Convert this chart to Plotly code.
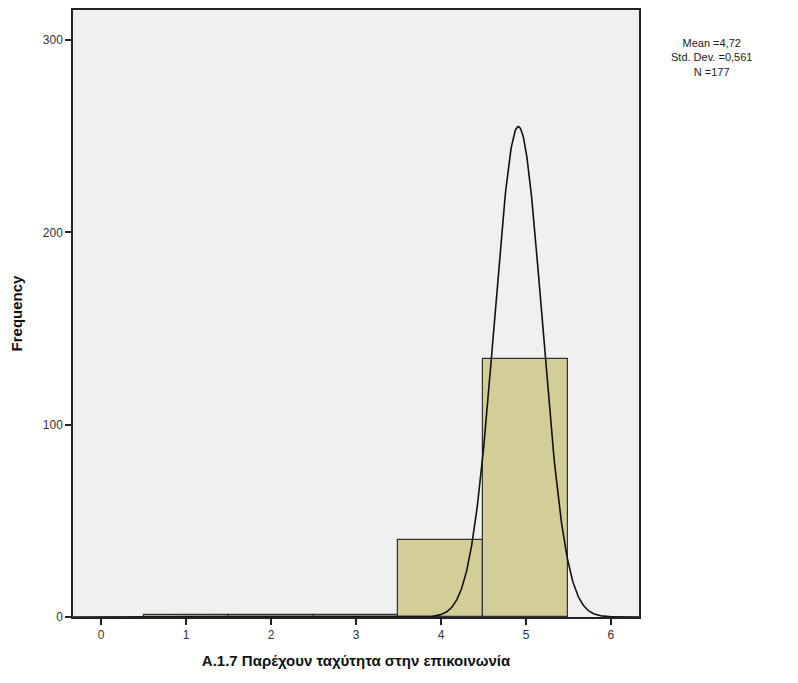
import numpy as np
import plotly.graph_objects as go

# Data
categories = [1, 2, 3, 4, 5]
frequencies = [1, 1, 1, 40, 134]
x_ticks = [0, 1, 2, 3, 4, 5, 6]
y_ticks = [0, 100, 200, 300]
stats_text = ["Mean =4,72", "Std. Dev. =0,561", "N =177"]
# drawn normal curve parameters
curve_center = 4.91
curve_sd = 0.28
curve_peak = 255

xs = np.linspace(-0.33, 6.33, 800)
ys = curve_peak * np.exp(-((xs - curve_center) ** 2) / (2 * curve_sd ** 2))

W, H = 798, 683
OFF = 8  # page body margin
L, T, R, B = 72.5 - OFF, 10 - OFF, 639 - OFF, 617 - OFF

fig = go.Figure()
fig.add_trace(go.Bar(
    x=categories, y=frequencies, width=1,
    marker=dict(color="#D3CE98", line=dict(color="#333333", width=1.2)),
    showlegend=False, hoverinfo="x+y",
))
fig.add_trace(go.Scatter(
    x=xs, y=ys, mode="lines",
    line=dict(color="#111111", width=1.6),
    showlegend=False, hoverinfo="skip",
))

fig.update_layout(
    width=W, height=H,
    margin=dict(l=L, r=W - R, t=T, b=H - B, autoexpand=False),
    paper_bgcolor="white", plot_bgcolor="#F0F0F0",
    font=dict(family="Liberation Sans, Arial, sans-serif", size=12, color="#333333"),
    bargap=0,
    xaxis=dict(
        range=[-0.33, 6.33], tickvals=x_ticks, ticks="outside", ticklen=6,
        tickcolor="#222222", tickwidth=1.5, showgrid=False, zeroline=False,
        showline=True, linecolor="#222222", linewidth=1.5, mirror=True,
        tickfont=dict(size=12, color="#333333"),
        title=dict(text="<b>Α.1.7 Παρέχουν ταχύτητα στην επικοινωνία</b>",
                   font=dict(size=15, color="#111111"), standoff=14),
    ),
    yaxis=dict(
        range=[0, 315.6], tickvals=y_ticks, ticks="outside", ticklen=6,
        tickcolor="#222222", tickwidth=1.5, showgrid=False, zeroline=False,
        showline=True, linecolor="#222222", linewidth=1.5, mirror=True,
        tickfont=dict(size=12, color="#333333"),
        title=dict(text="<b>Frequency</b>", font=dict(size=15, color="#111111"),
                   standoff=22),
    ),
)

cx, cy = 712 - OFF, 57 - OFF
fig.add_annotation(
    xref="paper", yref="paper",
    x=(cx - L) / (R - L), y=(B - cy) / (B - T),
    xanchor="center", yanchor="middle",
    text="<br>".join(stats_text), showarrow=False,
    font=dict(size=11, color="#222222"), align="center",
)

fig.write_html("out.html")
